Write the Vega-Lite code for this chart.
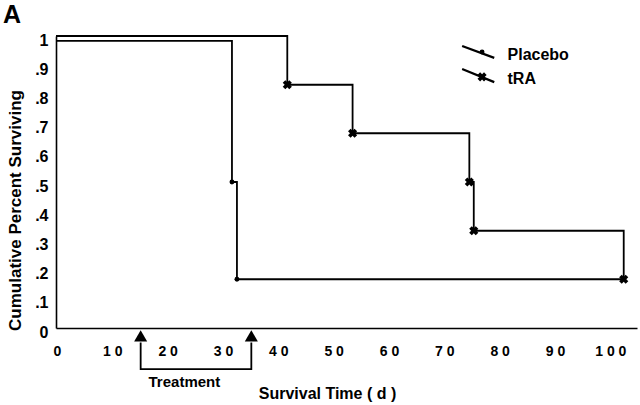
{
  "$schema": "https://vega.github.io/schema/vega-lite/v6.json",
  "autosize": "none",
  "width": 581,
  "height": 292,
  "padding": {"left": 56, "top": 36, "right": 3, "bottom": 77},
  "background": "white",
  "title": {"text": "A", "anchor": "start", "frame": "group", "dx": -53, "dy": 2, "fontSize": 25, "font": "Liberation Sans", "fontWeight": "bold", "color": "black", "offset": 6},
  "config": {
    "view": {"stroke": null},
    "font": "Liberation Sans",
    "axis": {"grid": false, "ticks": false, "labelOverlap": false, "domainColor": "black", "domainWidth": 1.6, "labelColor": "black", "titleColor": "black", "labelFont": "Liberation Sans", "titleFont": "Liberation Sans", "labelFontWeight": "bold", "titleFontWeight": "bold"}
  },
  "datasets": {
    "curves": [
      {"group": "Placebo", "day": 0, "surv": 0.983, "event": false},
      {"group": "Placebo", "day": 31.8, "surv": 0.5, "event": true},
      {"group": "Placebo", "day": 32.7, "surv": 0.167, "event": true},
      {"group": "Placebo", "day": 102.6, "surv": 0.167, "event": false},
      {"group": "tRA", "day": 0, "surv": 1.0, "event": false},
      {"group": "tRA", "day": 41.8, "surv": 0.833, "event": true},
      {"group": "tRA", "day": 53.6, "surv": 0.667, "event": true},
      {"group": "tRA", "day": 74.7, "surv": 0.5, "event": true},
      {"group": "tRA", "day": 75.5, "surv": 0.333, "event": true},
      {"group": "tRA", "day": 102.6, "surv": 0.167, "event": true}
    ],
    "legendLines": [
      {"group": "Placebo", "day": 73.4, "surv": 0.966},
      {"group": "Placebo", "day": 79.2, "surv": 0.925},
      {"group": "tRA", "day": 73.4, "surv": 0.887},
      {"group": "tRA", "day": 79.2, "surv": 0.842}
    ],
    "legendMarks": [
      {"group": "Placebo", "day": 77.0, "surv": 0.945},
      {"group": "tRA", "day": 77.0, "surv": 0.860}
    ],
    "legendText": [
      {"label": "Placebo", "day": 81.6, "surv": 0.935},
      {"label": "tRA", "day": 81.6, "surv": 0.853}
    ],
    "arrows": [
      {"day": 15.3, "surv": -0.027},
      {"day": 35.3, "surv": -0.027}
    ],
    "bracket": [
      {"order": 1, "day": 15.3, "surv": -0.05},
      {"order": 2, "day": 15.3, "surv": -0.141},
      {"order": 3, "day": 35.3, "surv": -0.141},
      {"order": 4, "day": 35.3, "surv": -0.05}
    ],
    "notes": [
      {"label": "Treatment", "day": 23.2, "surv": -0.185}
    ]
  },
  "layer": [
    {
      "data": {"name": "curves"},
      "mark": {"type": "line", "interpolate": "step-after", "color": "black", "strokeWidth": 1.8, "clip": false},
      "encoding": {
        "x": {"field": "day", "type": "quantitative", "scale": {"domain": [0, 105], "nice": false, "zero": false},
          "axis": {"values": [0, 10, 20, 30, 40, 50, 60, 70, 80, 90, 100], "tickCount": 20, "labelExpr": "join(split(datum.label, ''), ' ')", "labelFontSize": 14, "labelPadding": 16, "labelFlush": false, "labelOverlap": false, "labelOffset": 1,
            "title": "Survival Time ( d )", "titleFontSize": 16, "titleX": 271, "titleY": 65, "titleBaseline": "middle", "titleAnchor": "middle"}},
        "y": {"field": "surv", "type": "quantitative", "scale": {"domain": [0, 1], "nice": false, "zero": false},
          "axis": {"values": [0, 0.1, 0.2, 0.3, 0.4, 0.5, 0.6, 0.7, 0.8, 0.9, 1], "tickCount": 20, "labelExpr": "datum.value < 0.05 ? '0' : datum.value > 0.95 ? '1' : '.' + round(datum.value * 10)", "labelFontSize": 16, "labelPadding": 8, "labelOffset": 4, "labelFlush": false, "labelOverlap": false,
            "title": "Cumulative Percent Surviving", "titleFontSize": 17, "titleX": -41, "titleY": 174, "titleBaseline": "middle", "titleAnchor": "middle", "titleAngle": 270}},
        "detail": {"field": "group"}
      }
    },
    {
      "data": {"name": "curves"},
      "transform": [{"filter": "datum.event && datum.group == 'tRA'"}],
      "mark": {"type": "point", "shape": "cross", "angle": 45, "filled": true, "color": "black", "size": 85, "opacity": 1, "clip": false},
      "encoding": {
        "x": {"field": "day", "type": "quantitative"},
        "y": {"field": "surv", "type": "quantitative"}
      }
    },
    {
      "data": {"name": "curves"},
      "transform": [{"filter": "datum.event && datum.group == 'Placebo'"}],
      "mark": {"type": "point", "shape": "circle", "filled": true, "color": "black", "size": 24, "opacity": 1, "clip": false},
      "encoding": {
        "x": {"field": "day", "type": "quantitative"},
        "y": {"field": "surv", "type": "quantitative"}
      }
    },
    {
      "data": {"name": "legendLines"},
      "mark": {"type": "line", "color": "black", "strokeWidth": 2.2, "clip": false},
      "encoding": {
        "x": {"field": "day", "type": "quantitative"},
        "y": {"field": "surv", "type": "quantitative"},
        "detail": {"field": "group"}
      }
    },
    {
      "data": {"name": "legendMarks"},
      "mark": {"type": "point", "filled": true, "color": "black", "opacity": 1, "clip": false},
      "encoding": {
        "x": {"field": "day", "type": "quantitative"},
        "y": {"field": "surv", "type": "quantitative"},
        "shape": {"field": "group", "type": "nominal", "scale": {"domain": ["Placebo", "tRA"], "range": ["circle", "cross"]}, "legend": null},
        "size": {"field": "group", "type": "nominal", "scale": {"domain": ["Placebo", "tRA"], "range": [24, 85]}, "legend": null},
        "angle": {"field": "group", "type": "nominal", "scale": {"domain": ["Placebo", "tRA"], "range": [0, 45]}, "legend": null}
      }
    },
    {
      "data": {"name": "legendText"},
      "mark": {"type": "text", "align": "left", "baseline": "middle", "font": "Liberation Sans", "fontWeight": "bold", "fontSize": 16, "color": "black", "clip": false},
      "encoding": {
        "x": {"field": "day", "type": "quantitative"},
        "y": {"field": "surv", "type": "quantitative"},
        "text": {"field": "label"}
      }
    },
    {
      "data": {"name": "bracket"},
      "mark": {"type": "line", "color": "black", "strokeWidth": 1.8, "clip": false},
      "encoding": {
        "x": {"field": "day", "type": "quantitative"},
        "y": {"field": "surv", "type": "quantitative"},
        "order": {"field": "order", "type": "quantitative"}
      }
    },
    {
      "data": {"name": "arrows"},
      "mark": {"type": "point", "shape": "triangle-up", "filled": true, "color": "black", "size": 170, "opacity": 1, "clip": false},
      "encoding": {
        "x": {"field": "day", "type": "quantitative"},
        "y": {"field": "surv", "type": "quantitative"}
      }
    },
    {
      "data": {"name": "notes"},
      "mark": {"type": "text", "align": "center", "baseline": "middle", "font": "Liberation Sans", "fontWeight": "bold", "fontSize": 15, "color": "black", "clip": false},
      "encoding": {
        "x": {"field": "day", "type": "quantitative"},
        "y": {"field": "surv", "type": "quantitative"},
        "text": {"field": "label"}
      }
    }
  ]
}
